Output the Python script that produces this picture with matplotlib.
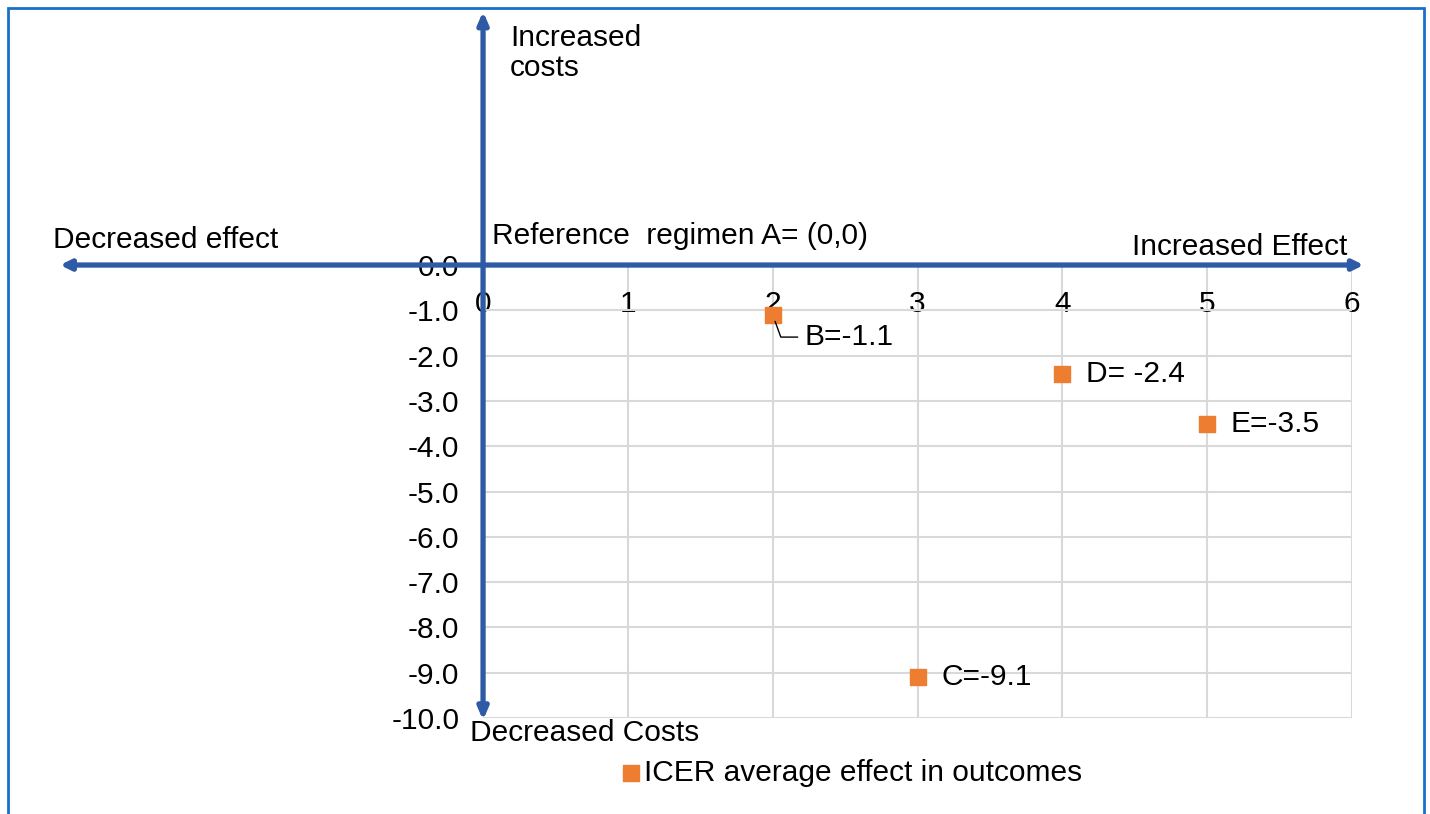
import matplotlib
matplotlib.use("Agg")
import matplotlib.pyplot as plt
from matplotlib.patches import Rectangle

plt.rcParams['font.family'] = ['Liberation Sans', 'DejaVu Sans']

# Data
regimens = ["B", "C", "D", "E"]
effect = [2, 3, 4, 5]
cost = [-1.1, -9.1, -2.4, -3.5]
point_labels = ["B=-1.1", "C=-9.1", "D= -2.4", "E=-3.5"]
x_ticks = [0, 1, 2, 3, 4, 5, 6]
y_ticks = [0, -1, -2, -3, -4, -5, -6, -7, -8, -9, -10]
legend_label = "ICER average effect in outcomes"

ARROW = '#2E5AA6'
ORANGE = '#ED7D31'
FS = 21.5

fig = plt.figure(figsize=(14.3, 8.14), dpi=100)
ax = fig.add_axes([0.3378, 0.1179, 0.6077, 0.5565])

ax.set_xlim(0, 6)
ax.set_ylim(-10, 0)
ax.set_xticks(x_ticks)
ax.set_yticks(y_ticks)
ax.set_xticklabels([str(t) for t in x_ticks])
ax.set_yticklabels([f"{t:.1f}" for t in y_ticks])
ax.xaxis.set_ticks_position('top')
ax.tick_params(axis='x', length=0, pad=-38, labelsize=FS, labeltop=True, labelbottom=False)
ax.tick_params(axis='y', length=0, pad=17, labelsize=FS)
for s in ax.spines.values():
    s.set_visible(False)
ax.grid(True, color='#d9d9d9', linewidth=1.5)
ax.set_axisbelow(True)

sc = ax.scatter(effect, cost, marker='s', s=135, color=ORANGE, zorder=5,
                label=legend_label, clip_on=False)

# point labels
for i, (x, y, lab) in enumerate(zip(effect, cost, point_labels)):
    if regimens[i] == "B":
        ax.annotate(lab, xy=(x, y), xytext=(23, -16), textcoords='offset points',
                    fontsize=FS, ha='left', va='center',
                    arrowprops=dict(arrowstyle='-', color='black', lw=1,
                                    shrinkA=3, shrinkB=5,
                                    connectionstyle='angle,angleA=0,angleB=110,rad=0'),
                    annotation_clip=False, zorder=6)
    else:
        ax.annotate(lab, xy=(x, y), xytext=(17, 0), textcoords='offset points',
                    fontsize=FS, ha='left', va='center', annotation_clip=False)

# quadrant arrows
ax.annotate('', xy=(-2.92, 0), xytext=(6.08, 0), xycoords='data',
            arrowprops=dict(arrowstyle='<|-|>,head_length=0.6,head_width=0.3',
                            color=ARROW, lw=3.8, shrinkA=0, shrinkB=0),
            annotation_clip=False, zorder=7)
ax.annotate('', xy=(0, 5.6), xytext=(0, -10.05), xycoords='data',
            arrowprops=dict(arrowstyle='<|-|>,head_length=0.7,head_width=0.3',
                            color=ARROW, lw=3.8, shrinkA=0, shrinkB=0),
            annotation_clip=False, zorder=7)

# quadrant texts (figure coordinates in pixels)
W, H = 1430, 814
def ftext(px, py, s, **kw):
    fig.text(px / W, 1 - py / H, s, fontsize=FS, **kw)

ftext(510, 53, "Increased\ncosts", ha='left', va='center', linespacing=1.1)
ftext(53, 240, "Decreased effect", ha='left', va='center')
ftext(492, 236, "Reference  regimen A= (0,0)", ha='left', va='center')
ftext(1347, 247, "Increased Effect", ha='right', va='center')
ftext(470, 733, "Decreased Costs", ha='left', va='center')

fig.legend(handles=[sc], labels=[legend_label], loc='center',
           bbox_to_anchor=(852 / W, 1 - 773 / H), frameon=False, fontsize=FS,
           handlelength=0.6, handletextpad=0.15, markerscale=0.95)

# outer border
fig.patches.append(Rectangle((8 / W, -0.05), (1424 - 8) / W, 1.05 - 8 / H,
                             transform=fig.transFigure, fill=False,
                             edgecolor='#1B6FCB', linewidth=2))

fig.savefig('out.png', dpi=100)
